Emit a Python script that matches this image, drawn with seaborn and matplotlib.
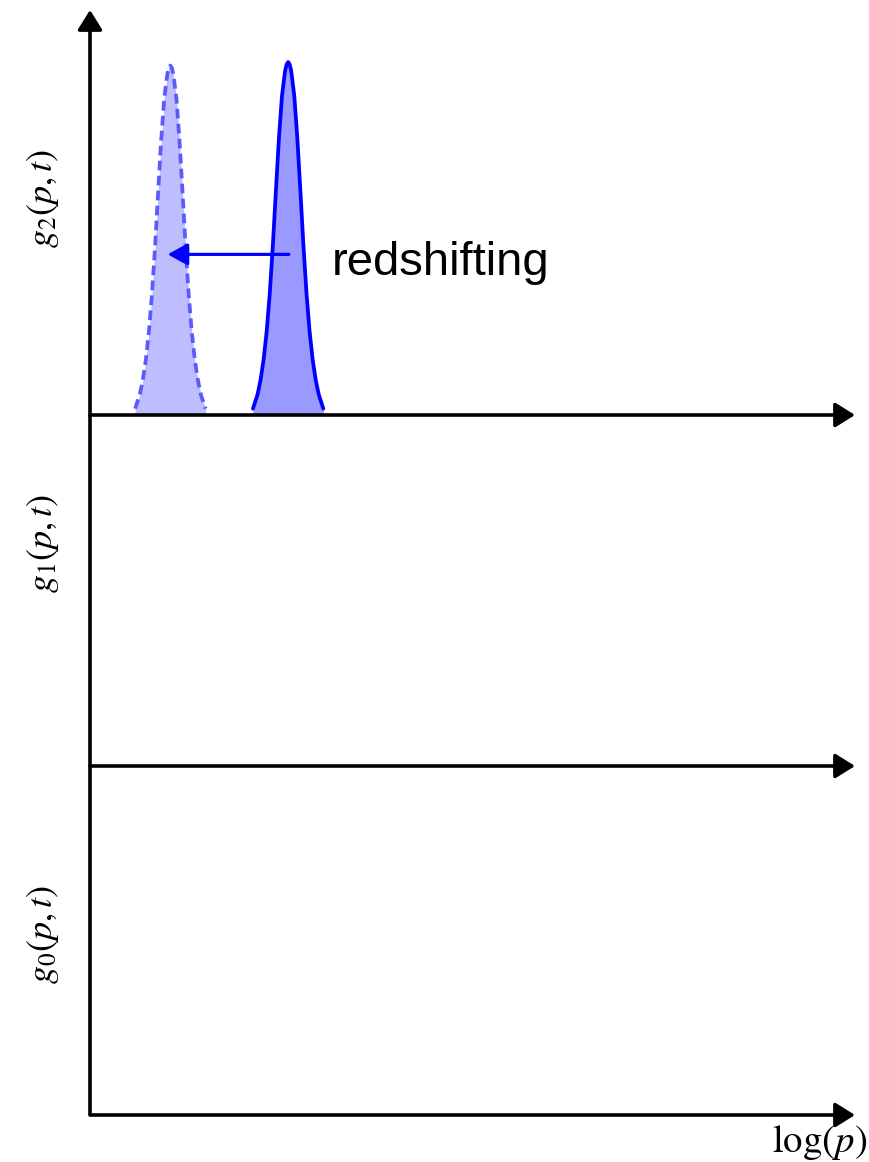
import numpy as np
import pandas as pd
import matplotlib
matplotlib.use("Agg")
import matplotlib.pyplot as plt
import seaborn as sns

# ---- data ----
# log(p) axis runs 0..10; peak height of the shifted-from line is 1.0
solid_x = [2.13, 2.19, 2.23, 2.27, 2.31, 2.35, 2.39, 2.43, 2.47, 2.51, 2.55, 2.57,
           2.59, 2.61, 2.63, 2.67, 2.71, 2.75, 2.79, 2.83, 2.87, 2.91, 2.95, 2.99, 3.05]
solid_y = [0.018, 0.058, 0.100, 0.158, 0.238, 0.345, 0.480, 0.635, 0.785, 0.905, 0.975, 0.993,
           1.000, 0.993, 0.975, 0.905, 0.785, 0.635, 0.480, 0.345, 0.238, 0.158, 0.100, 0.058, 0.018]

dashed_x = [0.59, 0.65, 0.69, 0.73, 0.77, 0.81, 0.85, 0.89, 0.93, 0.97, 1.01, 1.03,
            1.05, 1.07, 1.09, 1.13, 1.17, 1.21, 1.25, 1.29, 1.33, 1.37, 1.41, 1.45, 1.51]
dashed_y = [0.018, 0.057, 0.099, 0.156, 0.236, 0.342, 0.475, 0.629, 0.777, 0.896, 0.965, 0.983,
            0.990, 0.983, 0.965, 0.896, 0.777, 0.629, 0.475, 0.342, 0.236, 0.156, 0.099, 0.057, 0.018]

shift_from = 2.60
shift_to = 1.016
shift_level = 0.455
annotation_text = "redshifting"
panel_labels = [r"$g_2(p,t)$", r"$g_1(p,t)$", r"$g_0(p,t)$"]
x_label = r"$\log(p)$"

# ---- style ----
sns.set_theme(style="white")
plt.rcParams["mathtext.fontset"] = "stix"
plt.rcParams["font.family"] = ["Liberation Sans", "DejaVu Sans"]

W, H = 870, 1162
fig = plt.figure(figsize=(W / 100, H / 100), dpi=100)
fig.patch.set_facecolor("white")

left = 90 / W
width = (855 - 90) / W

def frac_y(px):
    return 1 - px / H

ax_bot = fig.add_axes([left, frac_y(1115), width, (1115 - 766) / H])
ax_mid = fig.add_axes([left, frac_y(766), width, (766 - 415) / H])
ax_top = fig.add_axes([left, frac_y(415), width, (415 - 10) / H])

head = "-|>,head_length=0.4,head_width=0.25"
axis_lw = 2.6

for ax in (ax_bot, ax_mid, ax_top):
    ax.set_xlim(0, 10)
    ax.set_axis_off()
    # horizontal axis arrow
    ax.annotate("", xy=(1, 0), xytext=(0, 0), xycoords="axes fraction",
                textcoords="axes fraction",
                arrowprops=dict(arrowstyle=head, mutation_scale=30, lw=axis_lw,
                                color="black", shrinkA=0, shrinkB=0))

ax_bot.set_ylim(0, 1)
ax_mid.set_ylim(0, 1)
ax_top.set_ylim(0, 405 / 353)

# vertical axis (continuous line, arrow at top)
for ax in (ax_bot, ax_mid):
    ax.plot([0, 0], [0, 1], transform=ax.transAxes, color="black", lw=axis_lw,
            clip_on=False, solid_capstyle="butt")
ax_top.annotate("", xy=(0, 1), xytext=(0, 0), xycoords="axes fraction",
                textcoords="axes fraction",
                arrowprops=dict(arrowstyle=head, mutation_scale=30, lw=axis_lw,
                                color="black", shrinkA=0, shrinkB=0))

# ---- peaks ----
df_d = pd.DataFrame({"x": dashed_x, "y": dashed_y})
df_s = pd.DataFrame({"x": solid_x, "y": solid_y})

ax_top.fill_between(df_d["x"], 0, df_d["y"], color="#bdbdff", lw=0, zorder=1)
sns.lineplot(data=df_d, x="x", y="y", ax=ax_top, color="#5a5aff", lw=2.7,
             linestyle=(0, (2.6, 1.4)), sort=False, errorbar=None, zorder=2)

ax_top.fill_between(df_s["x"], 0, df_s["y"], color="#9999ff", lw=0, zorder=1)
sns.lineplot(data=df_s, x="x", y="y", ax=ax_top, color="#0000ff", lw=2.7,
             sort=False, errorbar=None, zorder=2)
ax_top.set_axis_off()

# redshift arrow and label
ax_top.annotate("", xy=(shift_to, shift_level), xytext=(shift_from, shift_level),
                xycoords="data",
                arrowprops=dict(arrowstyle="-|>,head_length=0.4,head_width=0.22",
                                mutation_scale=30, lw=2.3, color="#0000ff",
                                shrinkA=0, shrinkB=0), zorder=3)
ax_top.text(3.16, 0.397, annotation_text, fontsize=34, color="black",
            ha="left", va="baseline", family=["Liberation Sans", "DejaVu Sans"])

# ---- labels ----
label_centers = [198, 543, 934]
for lab, cy in zip(panel_labels, label_centers):
    fig.text(43 / W, frac_y(cy), lab, rotation=90, ha="center", va="center",
             fontsize=26, color="black")

fig.text(820 / W, frac_y(1151.7), x_label, ha="center", va="baseline",
         fontsize=28, color="black")

fig.savefig("out.png", dpi=100, facecolor="white")
